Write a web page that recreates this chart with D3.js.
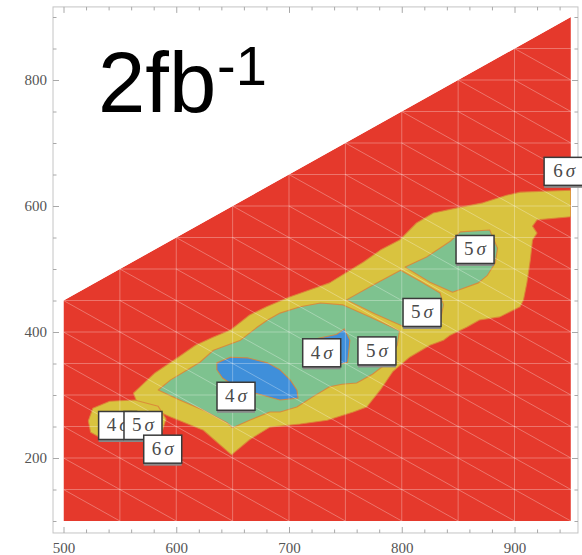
<!DOCTYPE html>
<html>
<head>
<meta charset="utf-8">
<script src="https://cdn.jsdelivr.net/npm/d3@7"></script>
<style>
  body { margin: 0; background: #fff; }
  svg { display: block; }
</style>
</head>
<body>
<svg id="chart" width="582" height="555"></svg>
<script>
// ---- plane limits (data units) ----
const regionXMin = 500, regionXMax = 950;
const regionYMin = 100, regionYMax = 900;
const diagonalOffset = 50;            // upper edge of the allowed region: y = x - 50
const meshStep = 50;                  // spacing of the triangulation mesh

const xTicksMajor = [500, 600, 700, 800, 900];
const xTicksMinor = d3.range(500, 960, 20).filter(v => v % 100 !== 0);
const yTicksMajor = [200, 400, 600, 800];
const yTicksMinor = d3.range(100, 920, 50).filter(v => v % 200 !== 0);

// ---- significance contours (x, y) ----
// 6 sigma line: outside is red (> 6 sigma), inside yellow
const contour6Main = [
  [562,303],[581,335],[601,359],[617,379],[633,392],[648,403],[665,427],[680,440],
  [701,456],[725,471],[736,478],[766,511],[781,530],[798,546],[813,573],[828,589],
  [849,597],[872,605],[893,617],[905,622],[950,625],[950,583],[920,578],[916,568],
  [920,557],[916,546],[914,514],[911,478],[908,451],[905,440],[887,424],[869,419],
  [858,408],[843,395],[837,387],[825,379],[807,360],[792,337],[781,308],[769,281],
  [757,273],[734,260],[710,254],[683,249],[665,229],[649,205],[624,244],[595,265],
  [565,289]
];
const contour6Low = [
  [522,259],[526,279],[541,290],[563,292],[584,282],[591,262],[586,234],[568,232],
  [532,233],[524,241]
];
// 5 sigma lines: inside green
const contour5Main = [
  [584,308],[595,324],[610,340],[621,352],[633,371],[657,387],[672,408],[681,419],
  [692,430],[710,440],[728,446],[748,443],[772,424],[798,402],[796,379],[788,352],
  [774,333],[760,319],[747,317],[736,313],[721,297],[707,281],[692,273],[683,273],
  [665,260],[650,248],[645,256],[624,276],[603,292]
];
const contour5Mid = [
  [751,451],[775,475],[799,498],[816,481],[834,462],[837,443],[834,416],[800,410],
  [776,429]
];
const contour5Upper = [
  [803,503],[822,519],[843,544],[852,559],[878,562],[885,533],[883,510],[876,490],
  [868,478],[845,463],[825,479]
];
const contour5Low = [
  [532,270],[560,274],[578,262],[575,240],[545,237],[532,247]
];
// 4 sigma lines: inside blue
const contour4Main = [
  [636,351],[648,360],[663,359],[681,351],[692,340],[701,324],[707,308],[708,295],
  [692,292],[672,302],[657,308],[641,327],[636,340]
];
const contour4Small = [
  [723,389],[742,396],[749,405],[754,387],[752,352],[738,345],[723,348]
];
const contour4Low = [
  [537,262],[550,264],[553,250],[540,244]
];

// ---- contour labels ----
const labelValues = [6, 5, 5, 4, 5, 4, 4, 5, 6];
const labelX      = [944, 865, 818, 729, 778, 653, 548, 570.5, 588];
const labelY      = [655, 531, 431, 367, 370, 298, 251.6, 251.6, 214];

// ---- colours ----
const colHigh = "#e5392c";   // > 6 sigma
const col56   = "#d9c33f";   // 5 - 6 sigma
const col45   = "#7ec28f";   // 4 - 5 sigma
const colLow  = "#3f8fda";   // < 4 sigma
const colEdge = "#db8438";

const svg = d3.select("#chart");

const x = d3.scaleLinear().domain([500, 900]).range([63.5, 514.5]);
const y = d3.scaleLinear().domain([200, 800]).range([458, 80]);

// frame extent in data units
const frameX = [490.7, 956.3];
const frameY = [81, 916];

const poly = d3.line().x(d => x(d[0])).y(d => y(d[1])).curve(d3.curveLinearClosed);

// allowed region (triangle-topped trapezoid)
const region = [
  [regionXMin, regionYMin], [regionXMax, regionYMin],
  [regionXMax, regionXMax - diagonalOffset], [regionXMin, regionXMin - diagonalOffset]
];

svg.append("defs").append("clipPath").attr("id", "regionClip")
  .append("path").attr("d", poly(region));

const plot = svg.append("g").attr("clip-path", "url(#regionClip)");

plot.append("path").attr("d", poly(region)).attr("fill", colHigh);

const bands = [
  { pts: contour6Main,  fill: col56 },
  { pts: contour6Low,   fill: col56 },
  { pts: contour5Main,  fill: col45 },
  { pts: contour5Mid,   fill: col45 },
  { pts: contour5Upper, fill: col45 },
  { pts: contour5Low,   fill: col45 },
  { pts: contour4Main,  fill: colLow },
  { pts: contour4Small, fill: colLow },
  { pts: contour4Low,   fill: colLow }
];

plot.selectAll("path.band").data(bands).join("path")
  .attr("class", "band")
  .attr("d", d => poly(d.pts))
  .attr("fill", d => d.fill)
  .attr("stroke", colEdge)
  .attr("stroke-width", 1.1)
  .attr("stroke-opacity", 0.85)
  .attr("stroke-linejoin", "round");

// ---- triangulation mesh ----
const meshXs = d3.range(regionXMin, regionXMax + 1, meshStep);
const meshYs = d3.range(regionYMin, regionYMax + 1, meshStep);
const meshLines = [];
meshXs.forEach(X => {
  if (X > regionXMin && X < regionXMax)
    meshLines.push([[X, regionYMin], [X, X - diagonalOffset]]);
});
meshYs.forEach(Y => {
  if (Y > regionYMin && Y < regionXMax - diagonalOffset)
    meshLines.push([[Math.max(regionXMin, Y + diagonalOffset), Y], [regionXMax, Y]]);
});
meshXs.forEach(X => {
  meshYs.forEach(Y => {
    if (X + meshStep <= regionXMax && Y + meshStep <= X - diagonalOffset)
      meshLines.push([[X, Y + meshStep], [X + meshStep, Y]]);
  });
});
plot.append("g").selectAll("line").data(meshLines).join("line")
  .attr("x1", d => x(d[0][0])).attr("y1", d => y(d[0][1]))
  .attr("x2", d => x(d[1][0])).attr("y2", d => y(d[1][1]))
  .attr("stroke", "#fff").attr("stroke-opacity", 0.3).attr("stroke-width", 1);

// ---- frame and ticks ----
const fx0 = x(frameX[0]), fx1 = x(frameX[1]);
const fy0 = y(frameY[0]), fy1 = y(frameY[1]);
const frameColor = "#c4c4c4", tickColor = "#a8a8a8";

svg.append("rect")
  .attr("x", fx0).attr("y", fy1).attr("width", fx1 - fx0).attr("height", fy0 - fy1)
  .attr("fill", "none").attr("stroke", frameColor).attr("stroke-width", 1);

const xs = x.copy().domain(frameX).range([fx0, fx1]);
const ys = y.copy().domain(frameY).range([fy0, fy1]);

function styleAxis(g) {
  g.select(".domain").remove();
  g.selectAll(".tick line").attr("stroke", tickColor);
  g.selectAll(".tick text")
    .attr("fill", "#555")
    .attr("font-family", "'Liberation Serif', 'DejaVu Serif', serif")
    .attr("font-size", 15);
}

// bottom
svg.append("g").attr("transform", `translate(0,${fy0})`)
  .call(d3.axisBottom(xs).tickValues(xTicksMajor).tickSize(-6).tickPadding(9).tickFormat(d3.format("d")))
  .call(styleAxis);
svg.append("g").attr("transform", `translate(0,${fy0})`)
  .call(d3.axisBottom(xs).tickValues(xTicksMinor).tickSize(-3.5).tickFormat(""))
  .call(styleAxis);
// top
svg.append("g").attr("transform", `translate(0,${fy1})`)
  .call(d3.axisTop(xs).tickValues(xTicksMajor).tickSize(-6).tickFormat(""))
  .call(styleAxis);
svg.append("g").attr("transform", `translate(0,${fy1})`)
  .call(d3.axisTop(xs).tickValues(xTicksMinor).tickSize(-3.5).tickFormat(""))
  .call(styleAxis);
// left
svg.append("g").attr("transform", `translate(${fx0},0)`)
  .call(d3.axisLeft(ys).tickValues(yTicksMajor).tickSize(-6).tickPadding(6).tickFormat(d3.format("d")))
  .call(styleAxis);
svg.append("g").attr("transform", `translate(${fx0},0)`)
  .call(d3.axisLeft(ys).tickValues(yTicksMinor).tickSize(-3.5).tickFormat(""))
  .call(styleAxis);
// right
svg.append("g").attr("transform", `translate(${fx1},0)`)
  .call(d3.axisRight(ys).tickValues(yTicksMajor).tickSize(-6).tickFormat(""))
  .call(styleAxis);
svg.append("g").attr("transform", `translate(${fx1},0)`)
  .call(d3.axisRight(ys).tickValues(yTicksMinor).tickSize(-3.5).tickFormat(""))
  .call(styleAxis);

// ---- contour labels ----
const labels = labelValues.map((v, i) => ({ v, cx: x(labelX[i]), cy: y(labelY[i]), w: i === 0 ? 40 : 38 }));
const lg = svg.append("g").selectAll("g").data(labels).join("g")
  .attr("transform", d => `translate(${d.cx},${d.cy})`);
lg.append("rect")
  .attr("x", d => -d.w / 2).attr("y", -14 + 2.5).attr("width", d => d.w).attr("height", 28)
  .attr("fill", "#8a8a8a");
lg.append("rect")
  .attr("x", d => -d.w / 2).attr("y", -14).attr("width", d => d.w).attr("height", 28)
  .attr("fill", "#fff").attr("stroke", "#3a3a3a").attr("stroke-width", 1.5);
const lt = lg.append("text")
  .attr("text-anchor", "middle").attr("y", 6)
  .attr("font-family", "'Liberation Serif', 'DejaVu Serif', serif")
  .attr("font-size", 19).attr("fill", "#4a4a4a");
lt.append("tspan").text(d => d.v);
lt.append("tspan").attr("dx", 3).attr("font-style", "italic").text("σ");

// ---- luminosity tag ----
const tag = svg.append("g").attr("font-family", "'Liberation Sans', Arial, sans-serif").attr("fill", "#000");
tag.append("text").attr("x", 98).attr("y", 112).attr("font-size", 85).text("2fb");
tag.append("text").attr("x", 217).attr("y", 85).attr("font-size", 56).text("-1");
</script>
</body>
</html>
